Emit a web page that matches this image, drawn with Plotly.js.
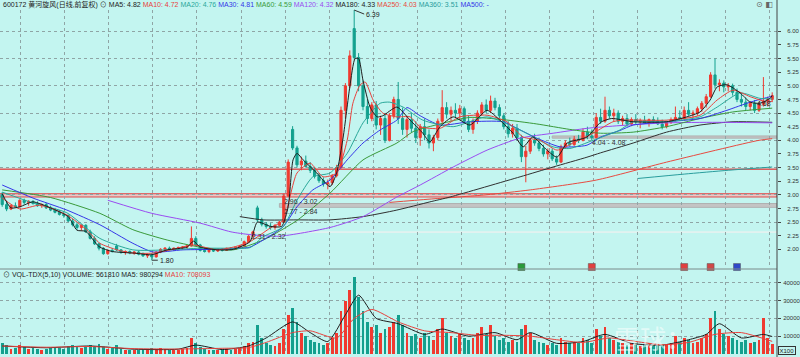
<!DOCTYPE html>
<html><head><meta charset="utf-8">
<script src="https://cdn.plot.ly/plotly-3.0.1.min.js"></script>
<style>html,body{margin:0;padding:0;background:#c3f5f0;}#chart{width:800px;height:357px;}</style>
</head><body><div id="chart"></div>
<script>
// ---- daily bars (each slot = one bar, index = trading-day order) ----
const openP = [3.00,2.82,2.74,2.80,2.78,2.90,2.86,2.88,2.84,2.80,
 2.82,2.76,2.72,2.68,2.64,2.62,2.52,2.45,2.40,2.44,
 2.32,2.20,2.10,2.02,1.92,1.98,2.06,1.99,1.94,1.96,
 1.93,1.95,1.91,1.88,1.90,1.86,1.95,2.00,2.02,2.00,
 2.02,2.03,2.04,2.06,2.20,2.08,1.98,1.96,1.98,1.97,
 2.00,1.98,2.02,2.00,2.04,2.06,2.14,2.24,2.76,2.54,
 2.46,2.42,2.40,2.44,2.50,2.98,4.20,3.86,3.55,3.62,
 3.52,3.45,3.34,3.26,3.20,3.22,3.35,3.50,4.55,5.00,
 6.05,5.52,5.00,4.62,4.40,4.65,4.28,4.40,4.00,4.45,
 4.75,4.40,4.20,4.38,4.22,4.05,4.25,4.10,3.95,4.05,
 4.35,4.60,4.48,4.55,4.50,4.58,4.35,4.20,4.35,4.50,
 4.65,4.55,4.72,4.60,4.45,4.25,4.12,4.22,4.05,3.70,
 3.80,4.00,3.95,3.85,3.75,3.80,3.66,3.60,3.88,3.95,
 3.92,4.02,4.00,4.15,4.08,4.05,4.42,4.35,4.55,4.45,
 4.50,4.35,4.40,4.30,4.38,4.34,4.36,4.32,4.38,4.35,
 4.30,4.25,4.33,4.38,4.42,4.40,4.55,4.48,4.50,4.58,
 4.68,4.80,5.20,5.02,5.05,4.98,5.00,4.88,4.75,4.70,
 4.62,4.68,4.55,4.66,4.72,4.75];
const highP = [3.05,2.88,2.82,2.86,2.92,2.93,2.90,2.90,2.88,2.84,
 2.85,2.80,2.76,2.72,2.70,2.64,2.56,2.50,2.46,2.46,
 2.36,2.24,2.12,2.04,2.00,2.02,2.10,2.00,1.98,1.98,
 1.96,1.97,1.94,1.92,1.93,1.96,2.02,2.04,2.05,2.03,
 2.05,2.06,2.08,2.42,2.24,2.10,2.02,2.00,2.00,2.01,
 2.02,2.03,2.04,2.05,2.08,2.16,2.26,2.34,2.80,2.58,
 2.50,2.48,2.46,2.52,3.02,3.65,4.26,3.90,3.70,3.72,
 3.60,3.50,3.40,3.32,3.28,3.38,3.55,4.62,5.05,5.65,
 6.39,5.60,5.10,4.75,4.70,4.72,4.45,4.50,4.50,4.80,
 5.07,4.60,4.45,4.50,4.35,4.30,4.40,4.20,4.10,4.40,
 4.92,4.70,4.62,4.68,4.65,4.62,4.45,4.40,4.55,4.70,
 4.75,4.82,4.78,4.66,4.50,4.35,4.30,4.30,4.10,3.90,
 4.05,4.12,4.05,3.92,3.85,3.85,3.72,3.92,4.00,4.05,
 4.08,4.10,4.22,4.25,4.20,4.50,4.58,4.80,4.62,4.58,
 4.55,4.45,4.48,4.42,4.48,4.40,4.45,4.40,4.44,4.42,
 4.38,4.36,4.42,4.62,4.55,4.62,4.70,4.55,4.62,4.72,
 4.85,5.25,5.50,5.12,5.10,5.05,5.04,4.95,4.86,4.78,
 4.72,4.74,4.70,5.16,4.80,4.88];
const lowP = [2.78,2.70,2.72,2.76,2.77,2.82,2.80,2.82,2.78,2.76,
 2.74,2.70,2.66,2.62,2.58,2.50,2.42,2.36,2.34,2.30,
 2.18,2.08,1.98,1.90,1.90,1.94,1.97,1.92,1.90,1.91,
 1.90,1.89,1.86,1.84,1.80,1.85,1.93,1.96,1.98,1.97,
 1.99,2.00,2.01,2.05,2.06,1.96,1.94,1.93,1.95,1.95,
 1.96,1.97,1.98,1.99,2.02,2.05,2.12,2.20,2.50,2.42,
 2.38,2.36,2.36,2.42,2.49,2.96,3.82,3.50,3.45,3.50,
 3.40,3.30,3.22,3.15,3.10,3.18,3.32,3.48,4.40,4.95,
 5.48,4.90,4.55,4.30,4.35,4.20,4.10,3.95,3.98,4.40,
 4.30,4.10,4.05,4.15,3.95,3.90,4.00,3.85,3.80,4.00,
 4.30,4.40,4.35,4.42,4.38,4.30,4.15,4.12,4.30,4.45,
 4.50,4.50,4.55,4.40,4.20,4.05,4.05,4.00,3.60,3.23,
 3.75,3.90,3.80,3.70,3.65,3.62,3.55,3.58,3.85,3.88,
 3.90,3.95,3.98,4.02,4.00,4.03,4.30,4.32,4.40,4.35,
 4.30,4.28,4.25,4.26,4.30,4.22,4.30,4.25,4.30,4.28,
 4.20,4.22,4.30,4.35,4.38,4.36,4.45,4.40,4.45,4.52,
 4.60,4.78,4.95,4.90,4.88,4.90,4.82,4.70,4.62,4.55,
 4.55,4.50,4.52,4.62,4.62,4.70];
const closeP = [2.82,2.74,2.80,2.78,2.90,2.86,2.88,2.84,2.80,2.82,
 2.76,2.72,2.68,2.64,2.62,2.52,2.45,2.40,2.44,2.32,
 2.20,2.10,2.02,1.92,1.98,1.96,1.99,1.94,1.96,1.93,
 1.95,1.91,1.88,1.90,1.86,1.95,2.00,2.02,2.00,2.02,
 2.03,2.04,2.06,2.20,2.08,1.98,1.96,1.98,1.97,2.00,
 1.98,2.02,2.00,2.04,2.06,2.14,2.24,2.32,2.54,2.46,
 2.42,2.40,2.44,2.50,2.98,3.60,3.86,3.55,3.62,3.52,
 3.45,3.34,3.26,3.20,3.22,3.35,3.50,4.55,5.00,5.55,
 5.52,5.00,4.62,4.40,4.65,4.28,4.40,4.00,4.45,4.75,
 4.40,4.20,4.38,4.22,4.05,4.25,4.10,3.95,4.05,4.35,
 4.60,4.48,4.55,4.50,4.58,4.35,4.20,4.35,4.50,4.65,
 4.55,4.72,4.60,4.45,4.25,4.12,4.22,4.05,3.70,3.80,
 4.00,3.95,3.85,3.75,3.80,3.66,3.60,3.88,3.95,3.92,
 4.02,4.00,4.15,4.08,4.05,4.42,4.35,4.55,4.45,4.50,
 4.35,4.40,4.30,4.38,4.34,4.36,4.32,4.38,4.35,4.30,
 4.25,4.33,4.38,4.42,4.40,4.55,4.48,4.50,4.58,4.68,
 4.80,5.20,5.02,5.05,4.98,5.00,4.88,4.75,4.70,4.62,
 4.68,4.55,4.66,4.72,4.75,4.82];
const volume = [6000,5000,3000,3500,5000,4000,3000,3500,3000,2500,
 3000,3500,4000,3500,3000,4500,5000,4000,3500,4000,
 5000,4500,5500,4000,3000,3500,5000,3000,2500,2000,
 2500,2000,3000,2500,3500,3000,3500,3000,2500,2000,
 2500,3000,3500,9000,6000,4000,3000,2500,2000,2500,
 2000,3000,2500,3000,3500,4500,6000,7000,16000,9000,
 6000,5000,4500,6000,14000,22000,26000,18000,12000,10000,
 8000,7000,6000,5000,6000,9000,12000,24000,30000,36000,
 43000,32000,24000,18000,15000,16000,12000,14000,15000,18000,
 22000,16000,12000,10000,11000,9000,12000,10000,8000,14000,
 20000,12000,10000,9000,11000,9000,8000,9000,12000,15000,
 11000,16000,10000,8000,9000,7000,8000,7000,14000,16000,
 12000,8000,7000,6000,5000,6000,5000,9000,7000,6000,
 7000,6000,9000,8000,6000,14000,10000,15000,9000,8000,
 7000,6000,5000,6000,5000,4500,5000,6000,5000,4500,
 5000,5500,6000,10000,7000,9000,8000,6000,7000,9000,
 11000,20000,24000,14000,11000,10000,9000,8000,7000,8000,
 6000,7000,8000,20000,9000,5618];

const ma5Day = [0,2,4,7,11,15,17,19,22,25,30,34,37.5,42,43.5,45,49,52.5,56.3,58,61,63.5,65,66.1,67,68.4,71.5,74.5,76,77.5,79,80.2,81,82,83.6,85.2,86.5,89.7,92.7,95.6,97.2,99.5,102.5,106.3,110.2,113.1,116.1,118.4,120.6,123.8,126.1,128.4,132.9,136,138.5,143.4,151,155.6,158.6,160.9,162.5,164.7,167.7,170,172.2,174.5,175];
const ma5Val = [3.02,2.76,2.78,2.87,2.76,2.60,2.35,2.33,2.05,1.96,1.93,1.90,1.99,2.04,2.15,2.04,1.99,2.00,2.14,2.50,2.42,2.42,2.78,3.64,3.76,3.64,3.40,3.15,3.40,4.06,4.98,5.50,5.50,5.10,4.61,4.43,4.45,4.61,4.37,4.13,3.97,4.25,4.43,4.28,4.55,4.37,4.13,3.88,4.06,3.82,3.69,3.95,4.06,4.33,4.40,4.34,4.34,4.43,4.52,4.74,4.98,5.02,4.87,4.70,4.68,4.77,4.82];
const ma10Day = [0,4,8.6,14.7,19.3,22.2,26.1,29.7,34.3,38.8,43.4,48.8,53,56.3,60.9,63.8,67,70,72.9,76,78.4,79.7,81.3,82.5,84.3,86.5,89.7,92.7,95,99.5,104,110.2,114.7,118.4,122.2,126.1,129.7,134.3,138.8,141,151,158.6,162.5,166.1,170,174,175];
const ma10Val = [2.94,2.74,2.81,2.63,2.35,2.11,1.99,1.93,1.93,2.00,2.08,1.99,2.05,2.14,2.39,2.53,3.40,3.58,3.33,3.40,4.00,4.68,5.01,5.07,4.74,4.50,4.43,4.43,4.25,4.22,4.43,4.46,4.34,4.06,4.00,3.82,3.95,4.13,4.34,4.37,4.37,4.46,4.74,4.92,4.80,4.70,4.72];
const ma20Day = [0,7,14.7,22.2,29.7,37.5,45,52.5,56.3,59.3,63.8,67,70.6,74.5,78.4,82,85.9,88.1,91.1,95.6,102.5,110.2,117.7,125.2,129,134.3,140.4,143.4,151,158.6,162.5,167.7,172.2,175];
const ma20Val = [3.05,2.85,2.67,2.20,1.99,1.99,2.02,2.02,2.03,2.23,2.41,2.90,3.33,3.40,3.76,4.32,4.68,4.70,4.61,4.37,4.25,4.43,4.19,3.88,3.85,4.00,4.19,4.34,4.34,4.43,4.61,4.87,4.77,4.76];
const ma30Day = [0,7,14.7,22.2,29.7,34.3,41.1,48.8,56.3,59.3,63.8,67,70.6,74.5,78.4,82,85.9,89.7,92,95,99.5,106.3,113.8,117.7,121.5,126.8,132.9,136,140.4,143.4,151,158.6,164.7,170,174.5,175];
const ma30Val = [3.18,2.94,2.72,2.45,2.11,1.95,1.99,2.00,2.04,2.17,2.41,2.78,3.09,3.27,3.64,3.95,4.19,4.37,4.60,4.45,4.28,4.34,4.34,4.19,4.04,3.88,3.91,4.06,4.18,4.28,4.34,4.40,4.55,4.70,4.80,4.81];
const ma60Day = [0,11,22.2,29.7,37.5,45,52.5,59.3,67,74.5,82,89.7,93.4,99.5,106.3,113.8,121.5,129,136,143.4,151,158.6,166,175];
const ma60Val = [3.09,2.95,2.66,2.36,2.17,2.04,1.99,2.17,2.53,3.03,3.64,3.95,4.16,4.30,4.42,4.38,4.30,4.20,4.13,4.15,4.25,4.40,4.52,4.59];
const ma120Day = [24,34,45,52,56.3,63,74.5,82,89.7,95,102.5,110.2,117.7,125.2,132.9,140.4,151,162.5,175];
const ma120Val = [2.90,2.66,2.48,2.32,2.27,2.24,2.40,2.60,2.96,3.18,3.51,3.82,4.04,4.13,4.22,4.27,4.32,4.33,4.32];
const ma180Day = [54,59.3,67,74.5,82,89.7,97.2,101.8,117.7,125.2,132.9,136,143.4,151,158.6,166.1,175];
const ma180Val = [2.60,2.54,2.54,2.54,2.60,2.72,2.87,2.96,3.33,3.51,3.69,3.77,3.95,4.15,4.28,4.34,4.33];
const ma250Day = [88,97,110,120,135,151,172,175];
const ma250Val = [2.86,2.92,3.00,3.09,3.27,3.60,4.00,4.03];
const ma360Day = [144.5,155,165,175];
const ma360Val = [3.30,3.38,3.45,3.51];

const vma5Day = [0,10,20,30,40,44,50,56,60,66,70,74,78,81,85,90,96,100,106,112,117,120,126,132,137,143,150,156,160,163,168,173,175];
const vma5Val = [4500,3500,4500,2700,2700,5000,2500,4500,9000,18000,12000,7000,22000,33000,20000,17000,11000,14000,10000,12000,8000,12000,6000,7000,11000,6000,5000,8000,11000,17000,9000,11000,9803];
const vma10Day = [0,10,20,30,40,50,56,60,66,70,76,80,84,90,96,102,108,114,120,126,132,138,144,150,156,162,168,175];
const vma10Val = [4500,3800,4200,3000,2800,3200,3600,6500,12000,13000,9000,20000,25000,18000,13000,12000,10500,10500,10000,8000,6500,9000,7000,5200,6500,11000,12000,7081];

// ---- price levels (support / resistance bands) ----
const levelLo   = [2.96, 2.77, 2.31, 4.04, 3.47];
const levelHi   = [3.02, 2.84, 2.32, 4.08, 3.47];
const levelFrom = [-0.5, 63, 56, 125, -0.5];
const levelLabelDay = [63.6, 63.6, 56.3, 133.5, null];
const levelKind = ['red','gray','light','gray','redline'];

// ---- event markers ----
const topEventDays = [110,113,116,117,119,123,124,126,128,129,130,132,134,137,140,142,143,145,151,152,156,157];
const bottomEventDays = [118,134,155,161,167];
const bottomEventColors = ['#2a9a3a','#e04040','#e04040','#d04848','#3048c8'];
const highDay = 80, highVal = 6.39, lowDay = 34, lowVal = 1.80, lastMarkDay = 171, lastMarkVal = 4.68;

const yTicks = [2.00,2.25,2.50,2.75,3.00,3.25,3.50,3.75,4.00,4.25,4.50,4.75,5.00,5.25,5.50,5.75,6.00];
const vTicks = [10000,20000,30000,40000];

const days = openP.map((_, i) => i);
const UP = '#f03a30', DOWN = '#13a08e';

const traces = [];
traces.push({
  type:'candlestick', x:days, open:openP, high:highP, low:lowP, close:closeP,
  xaxis:'x', yaxis:'y', whiskerwidth:0, hoverinfo:'skip',
  increasing:{line:{color:UP, width:1}, fillcolor:UP},
  decreasing:{line:{color:DOWN, width:1}, fillcolor:DOWN}, showlegend:false
});
const maDefs = [
  [ma360Day, ma360Val, '#2a9d9d'],
  [ma250Day, ma250Val, '#e84a40'],
  [ma180Day, ma180Val, '#303030'],
  [ma120Day, ma120Val, '#9a4cf0'],
  [ma60Day, ma60Val, '#3a9a3a'],
  [ma30Day, ma30Val, '#3535e8'],
  [ma20Day, ma20Val, '#2aa89a'],
  [ma10Day, ma10Val, '#e8413c'],
  [ma5Day, ma5Val, '#1e1e1e']
];
maDefs.forEach(([d, v, c]) => traces.push({
  type:'scatter', mode:'lines', x:d, y:v, xaxis:'x', yaxis:'y',
  line:{color:c, width:1, shape:'spline', smoothing:0.6}, hoverinfo:'skip', showlegend:false
}));
traces.push({
  type:'scatter', mode:'markers', x:topEventDays, y:topEventDays.map(() => 6.42),
  xaxis:'x', yaxis:'y', cliponaxis:false,
  marker:{symbol:'square', size:3, color:'#e03ce0'}, hoverinfo:'skip', showlegend:false
});
traces.push({
  type:'scatter', mode:'markers', x:bottomEventDays, y:bottomEventDays.map(() => 1.675),
  xaxis:'x', yaxis:'y', cliponaxis:false,
  marker:{symbol:'square', size:7, color:bottomEventColors, line:{color:'#555', width:0.5}}, hoverinfo:'skip', showlegend:false
});
traces.push({
  type:'bar', x:days, y:volume, xaxis:'x2', yaxis:'y2', width:0.62,
  marker:{color:days.map(i => closeP[i] >= openP[i] ? UP : DOWN), line:{width:0}},
  hoverinfo:'skip', showlegend:false
});
traces.push({type:'scatter', mode:'lines', x:vma5Day, y:vma5Val, xaxis:'x2', yaxis:'y2',
  line:{color:'#1e1e1e', width:1, shape:'spline', smoothing:0.6}, hoverinfo:'skip', showlegend:false});
traces.push({type:'scatter', mode:'lines', x:vma10Day, y:vma10Val, xaxis:'x2', yaxis:'y2',
  line:{color:'#e8413c', width:1, shape:'spline', smoothing:0.6}, hoverinfo:'skip', showlegend:false});

// pixel helpers for paper placement (plot area 777 x 357)
const px = x => x / 777, py = y => (357 - y) / 357;

const shapes = [];
const annotations = [];
levelLo.forEach((lo, i) => {
  const k = levelKind[i];
  let line, fill;
  if (k === 'red') { line = {color:'#e04848', width:1}; fill = 'rgba(240,190,190,0.8)'; }
  else if (k === 'gray') { line = {color:'#b0b0b0', width:1}; fill = '#c4c4c4'; }
  else if (k === 'light') { line = {color:'#e4f2f0', width:1}; fill = '#e8f4f2'; }
  else { line = {color:'#e05050', width:1}; fill = 'rgba(0,0,0,0)'; }
  shapes.push({type:'rect', xref:'x', yref:'y', x0:levelFrom[i], x1:176.09, y0:lo, y1:levelHi[i],
    line:line, fillcolor:fill, layer:'below'});
  if (levelLabelDay[i] !== null) {
    annotations.push({xref:'x', yref:'y', x:levelLabelDay[i], y:lo, xanchor:'left', yanchor:'top',
      text:lo.toFixed(2) + ' - ' + levelHi[i].toFixed(2), showarrow:false,
      font:{family:'Liberation Sans, Arial', size:7, color:'#333'}, yshift:1});
  }
});
// separator and right border lines
shapes.push({type:'line', xref:'paper', yref:'paper', x0:0, x1:1, y0:py(269), y1:py(269), line:{color:'#7a8a8a', width:1}});
shapes.push({type:'line', xref:'paper', yref:'paper', x0:1, x1:1, y0:0, y1:1, line:{color:'#444', width:1}});

const hdrFont = {family:'Liberation Sans, Noto Sans CJK SC, sans-serif', size:7, color:'#222'};
const sp = (c, t) => '<span style="color:' + c + '">' + t + '</span>';
annotations.push({xref:'paper', yref:'paper', x:px(1), y:py(5), xanchor:'left', yanchor:'middle', showarrow:false, font:hdrFont,
  text:'600172 黄河旋风(日线,前复权) ⊙ ' + sp('#222','MA5: 4.82') + ' ' + sp('#e8413c','MA10: 4.72') + ' ' +
    sp('#2aa89a','MA20: 4.76') + ' ' + sp('#3535e8','MA30: 4.81') + ' ' + sp('#3a9a3a','MA60: 4.59') + ' ' +
    sp('#9a4cf0','MA120: 4.32') + ' ' + sp('#222','MA180: 4.33') + ' ' + sp('#e84a40','MA250: 4.03') + ' ' +
    sp('#2a9d9d','MA360: 3.51') + ' ' + sp('#3535e8','MA500: -')});
annotations.push({xref:'paper', yref:'paper', x:px(1), y:py(275), xanchor:'left', yanchor:'middle', showarrow:false, font:hdrFont,
  text:'⊙ VOL-TDX(5,10) VOLUME: 561810 MA5: 980294 ' + sp('#e8413c','MA10: 708093')});
annotations.push({xref:'paper', yref:'paper', x:px(764), y:py(5), xanchor:'center', yanchor:'middle', showarrow:false,
  font:{family:'DejaVu Sans', size:8, color:'#666'}, text:'⊙ ◧'});
// watermark
annotations.push({xref:'paper', yref:'paper', x:px(612), y:py(337), xanchor:'left', yanchor:'middle', showarrow:false,
  font:{family:'Noto Sans CJK SC', size:26, color:'rgba(255,255,255,0.55)'}, text:'雪球：'});
// extremes
const markFont = {family:'Liberation Sans, Arial', size:7, color:'#222'};
annotations.push({xref:'x', yref:'y', x:highDay, y:highVal, ax:10, ay:4, text:highVal.toFixed(2), showarrow:true,
  arrowhead:0, arrowwidth:1, arrowcolor:'#333', xanchor:'left', font:markFont});
annotations.push({xref:'x', yref:'y', x:lowDay, y:lowVal, ax:6, ay:0, text:lowVal.toFixed(2), showarrow:true,
  arrowhead:0, arrowwidth:1, arrowcolor:'#333', xanchor:'left', font:markFont});
annotations.push({xref:'x', yref:'y', x:lastMarkDay, y:lastMarkVal, text:lastMarkVal.toFixed(2), showarrow:false,
  xanchor:'left', yanchor:'middle', font:markFont});
annotations.push({xref:'paper', yref:'paper', x:px(778), y:py(350), xanchor:'left', yanchor:'middle', showarrow:false,
  text:'X100', font:{family:'Liberation Sans, Arial', size:6, color:'#222'}, bordercolor:'#333', borderwidth:1, borderpad:0.5});

const gridX = {showgrid:true, gridcolor:'#8fa5a5', griddash:'dot', gridwidth:1, tick0:4.205, dtick:10.014,
  showticklabels:false, ticks:'', zeroline:false, showline:false, range:[-0.5,176.09], rangeslider:{visible:false}, fixedrange:true};
const tickFont = {family:'Liberation Sans, Arial', size:6, color:'#333'};
const layout = {
  width:800, height:357, margin:{l:0, r:23, t:0, b:0},
  paper_bgcolor:'#c3f5f0', plot_bgcolor:'#c3f5f0', showlegend:false, bargap:0,
  xaxis:Object.assign({anchor:'y'}, gridX),
  xaxis2:Object.assign({anchor:'y2', matches:'x'}, gridX),
  yaxis:{domain:[1-268/357, 1-10/357], range:[1.657, 6.391], side:'right', tickvals:yTicks,
    ticktext:yTicks.map(v => v.toFixed(2)), ticks:'outside', ticklen:3, tickcolor:'#444', ticklabelstandoff:5,
    tickfont:tickFont, showgrid:false,
    minor:{tickvals:[2.5,3.0,3.5,4.0,4.5,5.0,5.5,6.0], showgrid:true, gridcolor:'#8fa5a5', griddash:'dot', ticks:''},
    zeroline:false, showline:false, fixedrange:true},
  yaxis2:{domain:[1-354/357, 1-276/357], range:[0, 43760], side:'right', tickvals:vTicks,
    ticktext:vTicks.map(String), ticks:'outside', ticklen:3, tickcolor:'#444', ticklabelstandoff:1,
    tickfont:tickFont, showgrid:true, gridcolor:'#8fa5a5', griddash:'dot',
    zeroline:false, showline:false, fixedrange:true},
  shapes:shapes, annotations:annotations
};
Plotly.newPlot('chart', traces, layout, {displayModeBar:false, staticPlot:true});
</script></body></html>
